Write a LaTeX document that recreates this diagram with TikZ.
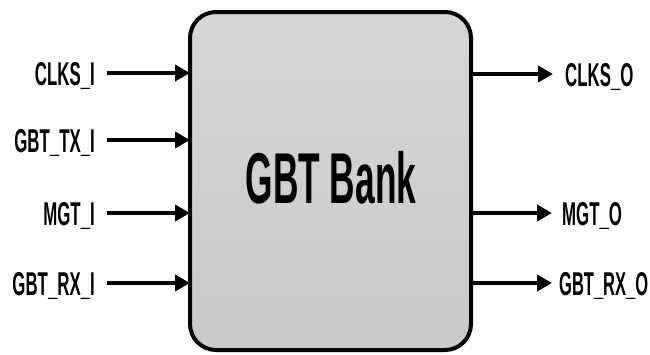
\documentclass[tikz,border=0pt]{standalone}
\usepackage{graphicx}
\usepackage{fontspec}
\setmainfont{Liberation Sans}
\usetikzlibrary{arrows.meta}

% condensed heavy lettering
\newcommand\condtxt[2]{\scalebox{#1}[1]{\bfseries #2}}

\tikzset{
  bankbox/.style={draw=black, line width=4pt, rounded corners=26pt,
    top color=black!16, bottom color=black!21,
    minimum width=281pt, minimum height=338pt, inner sep=0pt, outer sep=0pt},
  portlbl/.style={inner sep=0pt, font=\fontsize{33}{33}\selectfont},
  sig/.style={line width=4pt, -{Triangle[length=15pt,width=16pt]}}
}

\begin{document}
\begin{tikzpicture}[x=1pt,y=-1pt]
  \useasboundingbox (0,0) rectangle (650,354);

  % the bank block
  \node[bankbox] (bank) at (330.5,181) {};
  \node[inner sep=0pt, font=\fontsize{72}{72}\selectfont, anchor=base]
    (title) at (331,203) {\condtxt{0.49}{GBT Bank}};

  % input ports
  \node[portlbl, anchor=base east] (clki) at (95,85) {\condtxt{0.51}{CLKS\_I}};
  \node[portlbl, anchor=base east] (txi)  at (95,152) {\condtxt{0.51}{GBT\_TX\_I}};
  \node[portlbl, anchor=base east] (mgti) at (95,225) {\condtxt{0.51}{MGT\_I}};
  \node[portlbl, anchor=base east] (rxi)  at (95,295) {\condtxt{0.51}{GBT\_RX\_I}};

  \draw[sig] ([xshift=12pt]clki.base east |- 0,73) -- (bank.west |- 0,73);
  \draw[sig] ([xshift=12pt]txi.base east |- 0,140) -- (bank.west |- 0,140);
  \draw[sig] ([xshift=12pt]mgti.base east |- 0,213) -- (bank.west |- 0,213);
  \draw[sig] ([xshift=12pt]rxi.base east |- 0,283) -- (bank.west |- 0,283);

  % output ports
  \node[portlbl, anchor=base west] (clko) at (565,86) {\condtxt{0.51}{CLKS\_O}};
  \node[portlbl, anchor=base west] (mgto) at (562,225) {\condtxt{0.51}{MGT\_O}};
  \node[portlbl, anchor=base west] (rxo)  at (559,295) {\condtxt{0.5}{GBT\_RX\_O}};

  \draw[sig] (bank.east |- 0,74) -- ([xshift=-12pt]clko.base west |- 0,74);
  \draw[sig] (bank.east |- 0,213) -- ([xshift=-10pt]mgto.base west |- 0,213);
  \draw[sig] (bank.east |- 0,283) -- ([xshift=-7pt]rxo.base west |- 0,283);
\end{tikzpicture}
\end{document}
